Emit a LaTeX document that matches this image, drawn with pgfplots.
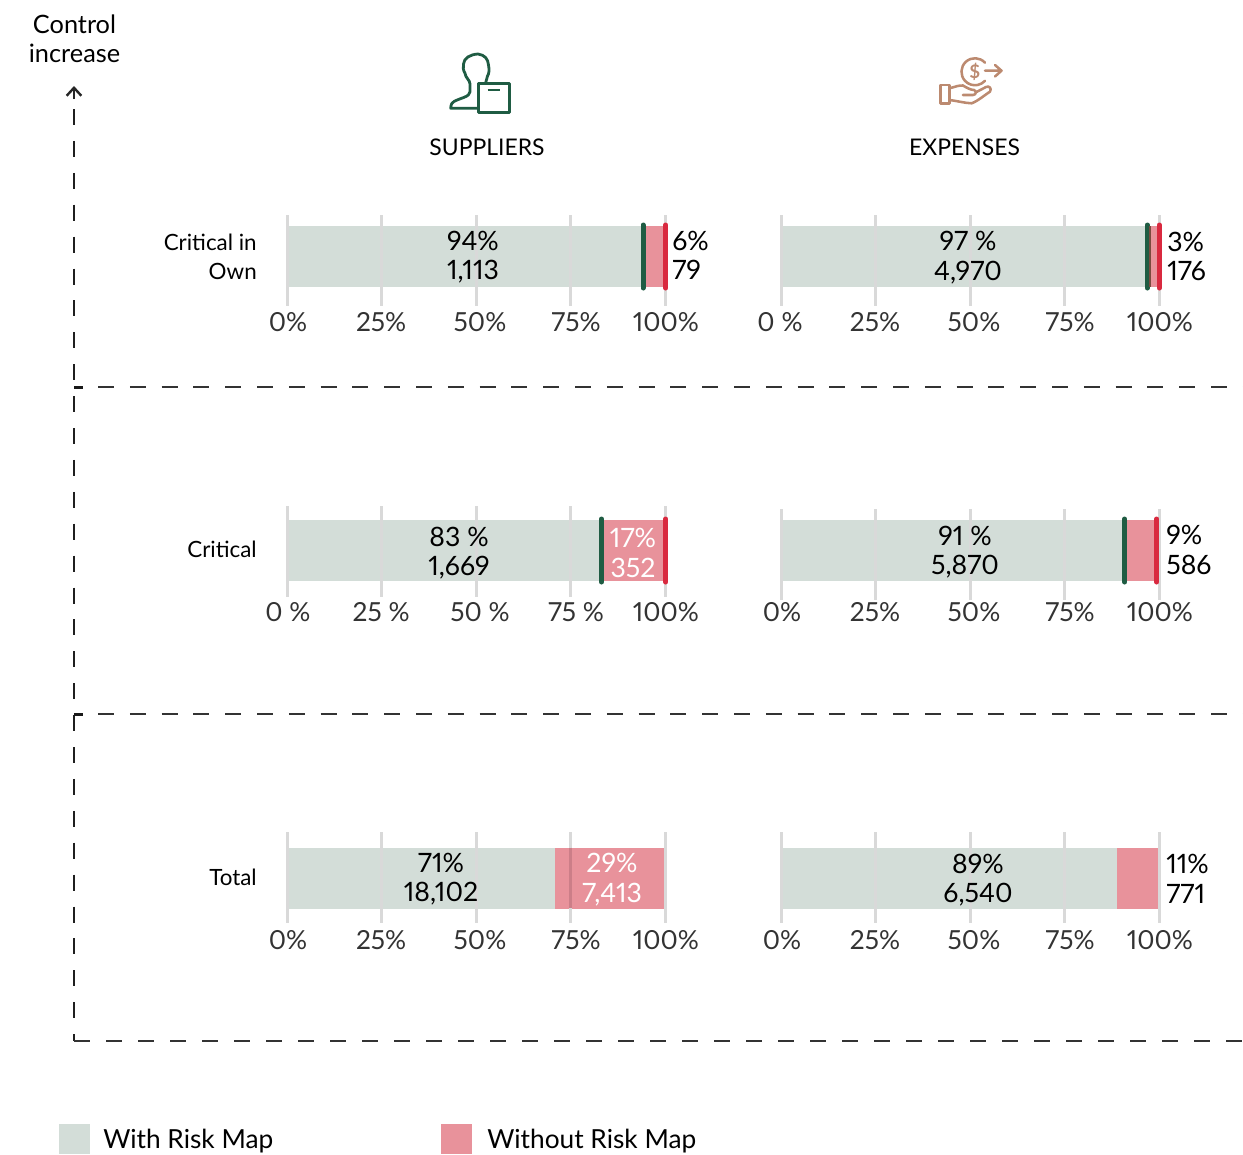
\documentclass[border=0pt]{standalone}
\usepackage{pgfplots}
\pgfplotsset{compat=1.18}
\usetikzlibrary{arrows.meta}
\usepackage{fontspec}
\setmainfont{Lato}[Numbers=Proportional]
\definecolor{barGreen}{HTML}{D3DDD8}
\definecolor{barPink}{HTML}{E8929B}
\definecolor{markGreen}{HTML}{1F5C43}
\definecolor{markRed}{HTML}{D9293F}
\definecolor{markBrown}{HTML}{7A4A3E}
\definecolor{iconBrown}{HTML}{BC8A70}
\definecolor{tickText}{HTML}{333333}
\definecolor{gridGray}{HTML}{D9D9D9}
\definecolor{gridPink}{HTML}{CC7E88}
\pgfplotsset{
  panel/.style={
    scale only axis, width=396.9pt, xmin=-20, xmax=120,
    y dir=reverse, clip=false,
    axis line style={draw=none}, ytick=\empty,
    major tick length=0pt, tick style={draw=none},
    xmajorgrids=false, reverse stacked plots=false,
    xticklabel style={anchor=base, font=\fontsize{19.7}{20}\selectfont, text=tickText},
  },
  gridline/.style={sharp plot, gridGray, line width=2.25pt, forget plot, stack plots=false},
  pinkgrid/.style={sharp plot, gridPink, line width=2.25pt, forget plot, stack plots=false},
  gmark/.style={sharp plot, markGreen, line width=3.75pt, line cap=round, forget plot, stack plots=false},
  rmark/.style={sharp plot, markRed, line width=3.75pt, line cap=round, forget plot, stack plots=false},
  bmark/.style={sharp plot, markBrown, line width=1.5pt, forget plot, stack plots=false},
}
% #1 left px, #2 tick top, #3 tick bottom, #4 bar centre, #5 label drop px,
% #6 with map, #7 without map, #8 tick positions, #9 tick labels
\newcommand\panel[9]{%
  \begin{axis}[panel, at={({(#1-75.6)*0.75pt},{-#3*0.75pt})}, anchor=south west,
    height={(#3-#2)*0.75pt}, ymin=#2, ymax=#3,
    xbar stacked, bar width=45.75pt,
    xtick={#8}, xticklabels={#9},
    xticklabel style={yshift={-#5*0.75pt}}]
    \addplot[draw=none, fill=barGreen] coordinates {(#6,#4)};
    \addplot[draw=none, fill=barPink] coordinates {(#7,#4)};
    \pgfplotsinvokeforeach{0,25,50,75,100}{
      \addplot[gridline] coordinates {(##1,#2) (##1,#3)};
    }
    \panelmarks
  \end{axis}%
}
\def\stdS{0.26,24.9,51.06,76.46,100.26}
\def\stdE{0.26,24.87,51.06,76.46,100.26}
\begin{document}
\begin{tikzpicture}
\useasboundingbox (0,0) rectangle (932.25pt,-865.5pt);

\def\panelmarks{
  \addplot[gmark] coordinates {(94.2,225) (94.2,288)};
  \addplot[rmark] coordinates {(100.2,225) (100.2,288)};
}
\panel{287}{215}{306}{256.4}{25}{94}{6}{\stdS}{0\%,25\%,50\%,75\%,100\%}
\def\panelmarks{
  \addplot[gmark] coordinates {(96.9,225) (96.9,288)};
  \addplot[bmark] coordinates {(97.7,226) (97.7,287)};
  \addplot[rmark] coordinates {(100.1,225) (100.1,288)};
}
\panel{781}{215}{306}{256.4}{25}{97}{3}{-0.26,24.87,51.06,76.46,100.26}{0 \%,25\%,50\%,75\%,100\%}
\def\panelmarks{
  \addplot[gmark] coordinates {(83.2,519) (83.2,582)};
  \addplot[rmark] coordinates {(100.2,519) (100.2,582)};
}
\panel{287}{506}{597}{550.4}{24}{83}{17}{\stdS}{0 \%,25 \%,50 \%,75 \%,100\%}
\def\panelmarks{
  \addplot[gmark] coordinates {(90.9,519) (90.9,582)};
  \addplot[rmark] coordinates {(99.4,519) (99.4,582)};
}
\panel{781}{509}{600}{550.4}{21}{91}{8.5}{\stdE}{0\%,25\%,50\%,75\%,100\%}
\def\panelmarks{
  \addplot[pinkgrid] coordinates {(75,847.7) (75,908.3)};
}
\panel{287}{832}{923}{878}{26}{71}{28.8}{\stdS}{0\%,25\%,50\%,75\%,100\%}
\def\panelmarks{}
\panel{781}{832}{923}{878}{26}{89}{10.7}{\stdE}{0\%,25\%,50\%,75\%,100\%}

\begin{scope}[x=0.75pt,y=-0.75pt]
  % frame
  \draw[black!88, line width=1.5pt, dash pattern=on 12pt off 11.925pt] (74,109) -- (74,1041);
  \draw[black!85, line width=1.8pt, -{Straight Barb[length=6pt,width=11pt]}] (74,99) -- (74,86);
  \foreach \yy/\ph in {387/5.85, 714/5.85}{
    \draw[black!80, line width=1.3pt, dash pattern=on 12pt off 11.85pt, dash phase=\ph pt] (74,\yy) -- (1250,\yy);
    \draw[black!90, line width=2.25pt] (74,\yy) -- (83,\yy);
  }
  \draw[black!80, line width=1.3pt, dash pattern=on 12pt off 12pt] (74,1041) -- (1250,1041);

  % text
  \newcommand\tb[3]{\node[anchor=base, inner sep=0pt, font=\fontsize{20}{20}\selectfont] at (#1,#2+1) {#3};}
  \newcommand\tw[3]{\node[anchor=base, inner sep=0pt, text=white, font=\fontsize{20}{20}\selectfont] at (#1,#2+1) {#3};}
  \newcommand\tl[3]{\node[anchor=base west, inner sep=0pt, font=\fontsize{20}{20}\selectfont] at (#1,#2+1) {#3};}
  \newcommand\tr[3]{\node[anchor=base east, inner sep=0pt, font=\fontsize{16.8}{20}\selectfont] at (#1,#2) {#3};}
  \tb{473}{249}{94\%}\tb{473}{278}{1,113}
  \tl{672}{249}{6\%}\tl{672}{278}{79}
  \tb{968}{249}{97 \%}\tb{968}{279}{4,970}
  \tl{1167}{250}{3\%}\tl{1167}{279}{176}
  \tb{459}{545}{83 \%}\tb{459}{574}{1,669}
  \tw{633}{546}{17\%}\tw{633}{576}{352}
  \tb{965}{544}{91 \%}\tb{965}{573}{5,870}
  \tl{1166}{543}{9\%}\tl{1166}{573}{586}
  \tb{441}{871}{71\%}\tb{441}{900}{18,102}
  \tw{612}{871}{29\%}\tw{612}{901}{7,413}
  \tb{978}{872}{89\%}\tb{978}{901}{6,540}
  \tl{1166}{872}{11\%}\tl{1166}{902}{771}
  \tr{257}{250}{Critical in}\tr{257}{279}{Own}
  \tr{257}{557}{Critical}\tr{257}{885}{Total}
  \node[anchor=base, inner sep=0pt, font=\fontsize{17.2}{20}\selectfont] at (487,155) {SUPPLIERS};
  \node[anchor=base, inner sep=0pt, font=\fontsize{17.2}{20}\selectfont] at (964.5,155) {EXPENSES};
  \node[anchor=base, inner sep=0pt, font=\fontsize{19}{20}\selectfont] at (74.5,33) {Control};
  \node[anchor=base, inner sep=0pt, font=\fontsize{19}{20}\selectfont] at (74.5,62) {increase};

  % legend
  \fill[barGreen] (59,1124) rectangle (90,1154);
  \fill[barPink] (441,1124) rectangle (472,1154);
  \node[anchor=base west, inner sep=0pt, font=\fontsize{19.7}{22}\selectfont] at (103,1148) {With Risk Map};
  \node[anchor=base west, inner sep=0pt, font=\fontsize{19.7}{22}\selectfont] at (487,1148) {Without Risk Map};

  % supplier icon
  \draw[markGreen, line width=2.1pt, line join=round, line cap=round]
    (478,108.3) -- (450.7,108.3) .. controls (451,104) and (452,102.5) .. (454,101.5)
    .. controls (460,98) and (470,97) .. (470,91.7) -- (470,84)
    .. controls (470,80) and (465.5,78) .. (465,73.3)
    .. controls (463,70) and (463,67) .. (463.5,64)
    .. controls (464,58) and (470,54.5) .. (478,54)
    .. controls (485,55) and (488,59) .. (488.5,65)
    .. controls (489.5,70) and (489,74) .. (487.5,76) -- (485.7,82.7);
  \draw[markGreen, line width=2.1pt, line join=round] (478.3,83.3) rectangle (509.3,112.7);
  \draw[markGreen, line width=2.1pt] (487.7,90) -- (500,90);

  % expenses icon
  \draw[iconBrown, line width=1.9pt, line join=round, line cap=round]
    (985,62.7) arc[start angle=-42, end angle=-318, radius=13.5];
  \node[text=iconBrown, inner sep=0pt, font=\fontsize{14}{14}\bfseries\selectfont] at (974.8,71.5) {\$};
  \draw[iconBrown, line width=1.9pt, line join=round, line cap=round]
    (985,70.7) -- (1001,70.7) (995,65) -- (1001.5,70.7) -- (995,76.5);
  \draw[iconBrown, line width=1.9pt, line join=round] (940.7,85) rectangle (949.3,103.3);
  \draw[iconBrown, line width=1.9pt, line join=round, line cap=round]
    (949.3,88.3) .. controls (955,87) and (959,85) .. (963,85.5)
    .. controls (967,88) and (971,90) .. (974,90) .. controls (977,91) and (976,95) .. (973,95) -- (963,95)
    (949.3,100) .. controls (958,101) and (964,103) .. (971.7,103.3)
    .. controls (978,101) and (986,94) .. (990,91.7)
    .. controls (992,88) and (989,85.5) .. (986,87) -- (975.5,92.5);
\end{scope}
\end{tikzpicture}
\end{document}
